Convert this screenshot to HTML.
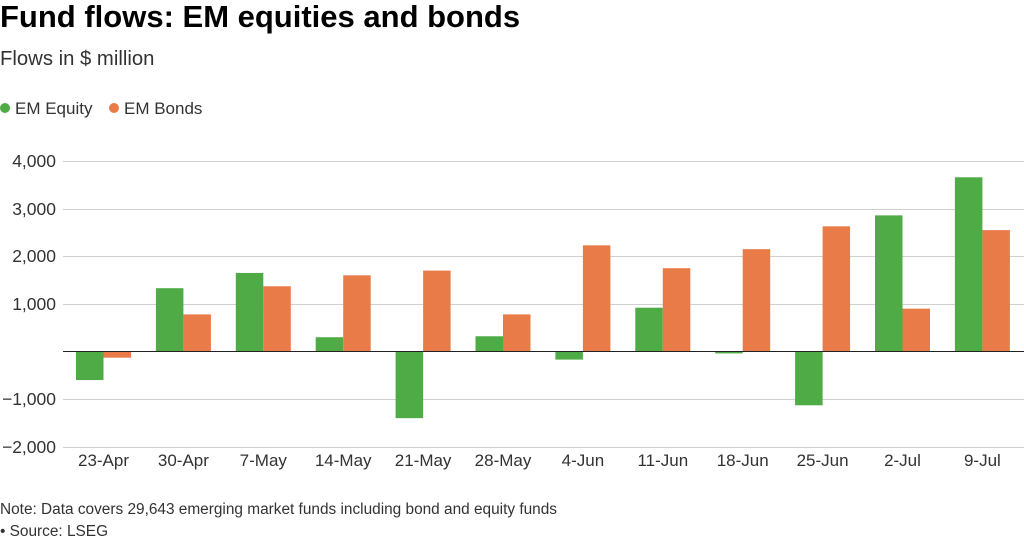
<!DOCTYPE html>
<html><head><meta charset="utf-8"><style>
body{margin:0;background:#fff;width:1024px;height:544px;overflow:hidden;font-family:"Liberation Sans",Arial,sans-serif;}
</style></head><body>
<svg width="1024" height="544" xmlns="http://www.w3.org/2000/svg" font-family="Liberation Sans, Arial, sans-serif">
<text x="0" y="27" font-size="31" font-weight="bold" fill="#000">Fund flows: EM equities and bonds</text>
<text x="0" y="65" font-size="20.3" fill="#333">Flows in $ million</text>
<circle cx="5" cy="108" r="5" fill="#4eab45"/>
<text x="15" y="114" font-size="17" fill="#333">EM Equity</text>
<circle cx="114" cy="108" r="5" fill="#e97b48"/>
<text x="124" y="114" font-size="17" fill="#333">EM Bonds</text>
<g stroke="#d0d0d0" stroke-width="1">
<line x1="63" x2="1024" y1="161.5" y2="161.5"/>
<line x1="63" x2="1024" y1="209.5" y2="209.5"/>
<line x1="63" x2="1024" y1="256.5" y2="256.5"/>
<line x1="63" x2="1024" y1="304.5" y2="304.5"/>
<line x1="63" x2="1024" y1="399.5" y2="399.5"/>
<line x1="63" x2="1024" y1="447.5" y2="447.5"/>
</g>
<g font-size="17.5" fill="#333" text-anchor="end">
<text x="56" y="167">4,000</text>
<text x="56" y="215">3,000</text>
<text x="56" y="262">2,000</text>
<text x="56" y="310">1,000</text>
<text x="56" y="405">−1,000</text>
<text x="56" y="453">−2,000</text>
</g>
<g id="bars"></g>
<line x1="63" x2="1024" y1="351.5" y2="351.5" stroke="#222" stroke-width="1"/>
<g id="labels" font-size="17" fill="#333" text-anchor="middle"></g>
<text x="0" y="514" font-size="15.4" fill="#333">Note: Data covers 29,643 emerging market funds including bond and equity funds</text>
<text x="0" y="536" font-size="15.4" fill="#333">• Source: LSEG</text>
<script>
var labs=["23-Apr","30-Apr","7-May","14-May","21-May","28-May","4-Jun","11-Jun","18-Jun","25-Jun","2-Jul","9-Jul"];
var g=[-600,1330,1650,300,-1400,320,-170,920,-40,-1130,2860,3660];
var o=[-130,780,1370,1600,1700,780,2230,1750,2150,2630,900,2550];
var ns="http://www.w3.org/2000/svg",B=document.getElementById("bars"),L=document.getElementById("labels");
function y(v){return 351.5-v*0.0476;}
function bar(x,v,c){var r=document.createElementNS(ns,"rect");var a=y(v),b=351.5;r.setAttribute("x",x);r.setAttribute("width",27.5);r.setAttribute("y",Math.min(a,b));r.setAttribute("height",Math.abs(a-b));r.setAttribute("fill",c);B.appendChild(r);}
for(var i=0;i<12;i++){var cx=103.5+i*79.9;bar(cx-27.5,g[i],"#4eab45");bar(cx,o[i],"#e97b48");
var t=document.createElementNS(ns,"text");t.setAttribute("x",cx);t.setAttribute("y",466);t.textContent=labs[i];L.appendChild(t);}
</script>
</svg>
</body></html>
